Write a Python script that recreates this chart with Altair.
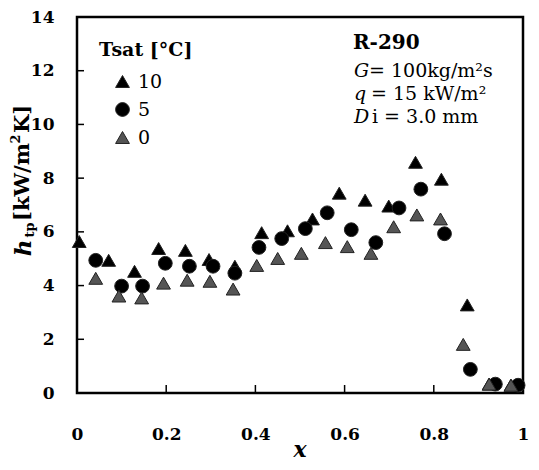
import altair as alt
import pandas as pd

# ---- data ----
tsat_labels = ["10", "5", "0"]

x_10 = [0.005, 0.071, 0.129, 0.183, 0.243, 0.296, 0.354, 0.414, 0.472, 0.528,
        0.588, 0.646, 0.699, 0.759, 0.817, 0.875, 0.924, 0.973]
h_10 = [5.64, 4.94, 4.53, 5.38, 5.31, 4.97, 4.72, 5.97, 6.04, 6.48,
        7.44, 7.18, 6.96, 8.59, 7.96, 3.28, 0.33, 0.29]

x_5 = [0.042, 0.100, 0.147, 0.198, 0.252, 0.305, 0.354, 0.408, 0.459, 0.512,
       0.561, 0.615, 0.670, 0.722, 0.771, 0.824, 0.882, 0.938, 0.989]
h_5 = [4.94, 3.98, 3.98, 4.83, 4.72, 4.72, 4.46, 5.42, 5.75, 6.12,
       6.71, 6.08, 5.60, 6.89, 7.59, 5.93, 0.88, 0.33, 0.29]

x_0 = [0.042, 0.094, 0.145, 0.194, 0.247, 0.298, 0.350, 0.403, 0.450, 0.503,
       0.557, 0.606, 0.659, 0.710, 0.762, 0.815, 0.866, 0.924, 0.973]
h_0 = [4.27, 3.61, 3.54, 4.09, 4.20, 4.16, 3.87, 4.75, 5.01, 5.20,
       5.60, 5.45, 5.20, 6.19, 6.63, 6.48, 1.81, 0.33, 0.29]

x_ticks = [0, 0.2, 0.4, 0.6, 0.8, 1.0]
y_ticks = [0, 2, 4, 6, 8, 10, 12, 14]

legend_title = "Tsat [°C]"
info_title = "R-290"
info_italic = ["G", "q", "D"]
info_rest = ["= 100kg/m²s", "= 15 kW/m²", "i = 3.0 mm"]
ytitle_parts = ["h", "tp", "[kW/m", "2", "K]"]
xtitle = "x"

# ---- build table ----
rows = []
for lab, xs_, hs_ in [("10", x_10, h_10), ("5", x_5, h_5), ("0", x_0, h_0)]:
    for a, b in zip(xs_, hs_):
        rows.append({"x": a, "h": b, "Tsat": lab})
df = pd.DataFrame(rows)

W, H = 446, 376
FONT = "DejaVu Serif"

xs = alt.Scale(domain=[0, 1], nice=False, zero=False)
ys = alt.Scale(domain=[0, 14], nice=False)

ax_x = alt.Axis(values=x_ticks, format="~g", ticks=False, domain=False, grid=False,
                labelFont=FONT, labelFontSize=17, labelFontWeight="bold",
                labelColor="black", labelPadding=33, labelFlush=False, title=None)
ax_y = alt.Axis(values=y_ticks, format="d", ticks=False, domain=False, grid=False,
                labelFont=FONT, labelFontSize=17, labelFontWeight="bold",
                labelColor="black", labelPadding=23, labelFlush=False, title=None)

leg = alt.Legend(orient="none", legendX=22, legendY=24, title=legend_title,
                 titleFont=FONT, titleFontSize=19, titleFontWeight="bold",
                 titleColor="black", titlePadding=12,
                 labelFont=FONT, labelFontSize=19, labelColor="black",
                 symbolSize=190, symbolOffset=14, labelOffset=6, rowPadding=8,
                 padding=0, symbolStrokeWidth=1)

points = alt.Chart(df).mark_point(filled=True, opacity=1, size=190,
                                  stroke="#222222", strokeWidth=1).encode(
    x=alt.X("x:Q", scale=xs, axis=ax_x),
    y=alt.Y("h:Q", scale=ys, axis=ax_y),
    shape=alt.Shape("Tsat:N", scale=alt.Scale(domain=tsat_labels,
                    range=["triangle-up", "circle", "triangle-up"]), legend=leg),
    color=alt.Color("Tsat:N", scale=alt.Scale(domain=tsat_labels,
                    range=["#000000", "#000000", "#555555"]), legend=leg),
)

# inward ticks
xt = alt.Chart(pd.DataFrame({"x": x_ticks})).mark_rule(color="#000000", strokeWidth=1.5).encode(
    x=alt.X("x:Q", scale=xs, axis=ax_x), y=alt.value(H), y2=alt.value(H - 8))
yt = alt.Chart(pd.DataFrame({"h": y_ticks})).mark_rule(color="#000000", strokeWidth=1.5).encode(
    y=alt.Y("h:Q", scale=ys, axis=ax_y), x=alt.value(0), x2=alt.value(7))


def txt(t_, x, y, size, weight="normal", style="normal", align="left", angle=0, font=FONT):
    return alt.Chart(pd.DataFrame({"t": [t_]})).mark_text(
        x=x, y=y, fontSize=size, fontWeight=weight, fontStyle=style, font=font,
        align=align, baseline="middle", angle=angle, color="black").encode(text="t:N")


texts = [txt(info_title, 276, 26, 20, weight="bold")]
line_y = [54, 77, 100]
rest_x = [292, 294, 295]
for i in range(3):
    texts.append(txt(info_italic[i], 277, line_y[i], 19, style="italic"))
    texts.append(txt(info_rest[i], rest_x[i], line_y[i], 19))

# rotated y title pieces
texts.append(txt(ytitle_parts[0], -53, 231, 23, weight="bold", style="italic", align="center", angle=270))
texts.append(txt(ytitle_parts[1], -47, 213, 13, weight="bold", align="center", angle=270))
texts.append(txt(ytitle_parts[2], -54, 165, 21, weight="bold", align="center", angle=270))
texts.append(txt(ytitle_parts[3], -61, 122, 13, weight="bold", align="center", angle=270))
texts.append(txt(ytitle_parts[4], -54, 102, 21, weight="bold", align="center", angle=270))
# x title
texts.append(txt(xtitle, W / 2.0, H + 57, 22, weight="bold", style="italic", align="center"))

chart = alt.layer(xt, yt, points, *texts).properties(
    width=W, height=H,
    padding={"left": 2, "top": 0, "right": 0, "bottom": 0},
).configure_view(stroke="#000000", strokeWidth=2.5)

chart.save("out.html", embed_options={"renderer": "svg", "actions": False})
